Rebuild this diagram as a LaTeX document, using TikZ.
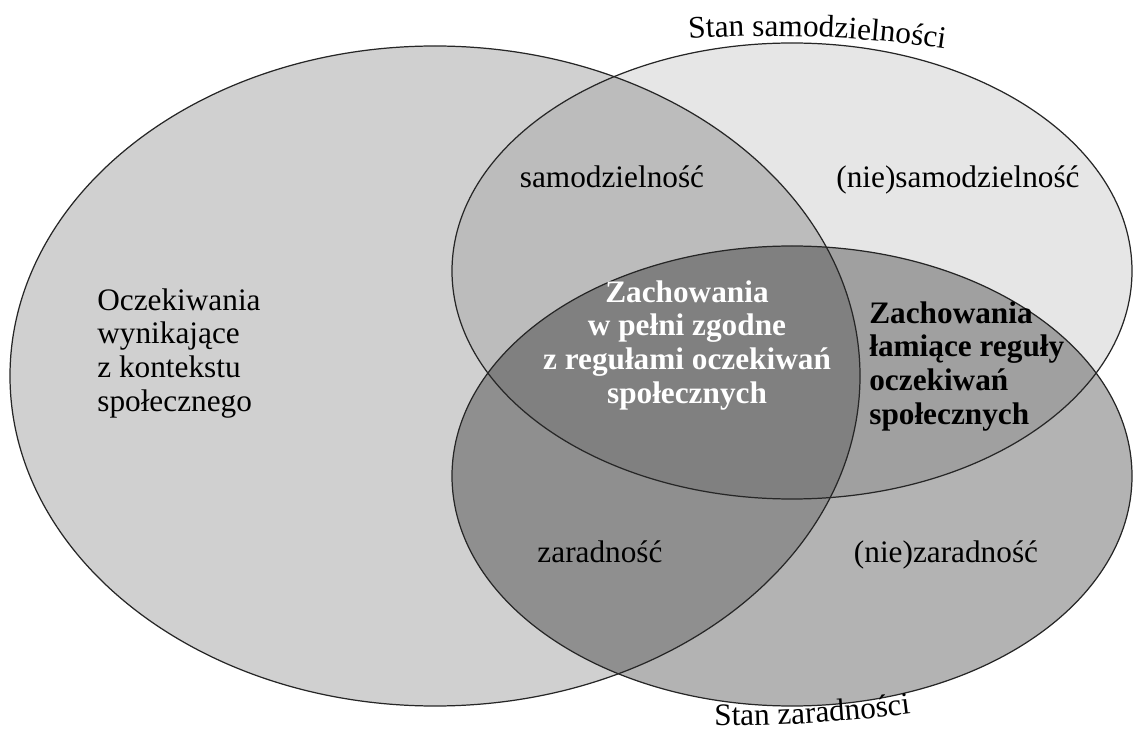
\documentclass[tikz,border=0pt]{standalone}
\usepackage{fontspec}
\setmainfont{Liberation Serif}
\usetikzlibrary{decorations.text}

\newcommand\napisfont{\fontsize{17.8}{19.2}\selectfont}

\tikzset{
	napis/.style={inner sep=0pt, font=\napisfont},
	gruby/.style={inner sep=0pt, font=\napisfont\bfseries},
	obrys/.style={draw=black!85, line width=0.7pt}
}

\begin{document}
\begin{tikzpicture}[x=0.02cm, y=0.02cm]
	\definecolor{kolorK}{gray}{0.816}
	\definecolor{kolorS}{gray}{0.902}
	\definecolor{kolorZ}{gray}{0.702}
	\definecolor{kolorKS}{gray}{0.737}
	\definecolor{kolorKZ}{gray}{0.56}
	\definecolor{kolorSZ}{gray}{0.627}
	\definecolor{kolorKSZ}{gray}{0.502}

	\useasboundingbox (0,0) rectangle (1133,731);

	% elipsy
	\def\pathK{(435,355) ellipse [x radius=425, y radius=330]}
	\def\pathS{(792,460) ellipse [x radius=340, y radius=228]}
	\def\pathZ{(792,255) ellipse [x radius=340, y radius=230]}

	\fill[kolorK] \pathK;
	\fill[kolorS] \pathS;
	\fill[kolorZ] \pathZ;
	\begin{scope}
		\clip \pathZ;
		\fill[kolorKZ] \pathK;
	\end{scope}
	\begin{scope}
		\clip \pathS;
		\fill[kolorKS] \pathK;
		\fill[kolorSZ] \pathZ;
		\clip \pathZ;
		\fill[kolorKSZ] \pathK;
	\end{scope}
	\draw[obrys] \pathK;
	\draw[obrys] \pathS;
	\draw[obrys] \pathZ;

	% napisy
	\node[napis, anchor=north west, align=left] (ocz) at (97,443)
		{Oczekiwania\\wynikające\\z kontekstu\\społecznego};
	\node[napis, anchor=base] (samo) at (612,543) {samodzielność};
	\node[napis, anchor=base] (niesamo) at (958,543) {(nie)samodzielność};
	\node[napis, anchor=base] (zar) at (600,169) {zaradność};
	\node[napis, anchor=base] (niezar) at (946,169) {(nie)zaradność};
	\node[gruby, text=white, anchor=north, align=center] (zgodne) at (687,451)
		{Zachowania\\w pełni zgodne\\z regułami oczekiwań\\społecznych};
	\node[gruby, anchor=north west, align=left, text depth=0pt] (lamiace) at (869,430)
		{Zachowania\\łamiące reguły\\oczekiwań\\społecznych};

	% podpisy na łukach
	\path[decorate, decoration={text along path, text align=center,
		text={|\napisfont|Stan samodzielności}}]
		([shift={(772,-505)}]102.85:1200) arc[start angle=102.85, end angle=72.85, radius=1200];
	\path[decorate, decoration={text along path, text align=center,
		text={|\napisfont|Stan zaradności}}]
		([shift={(720,1505)}]261.55:1500) arc[start angle=261.55, end angle=285.55, radius=1500];
\end{tikzpicture}
\end{document}
